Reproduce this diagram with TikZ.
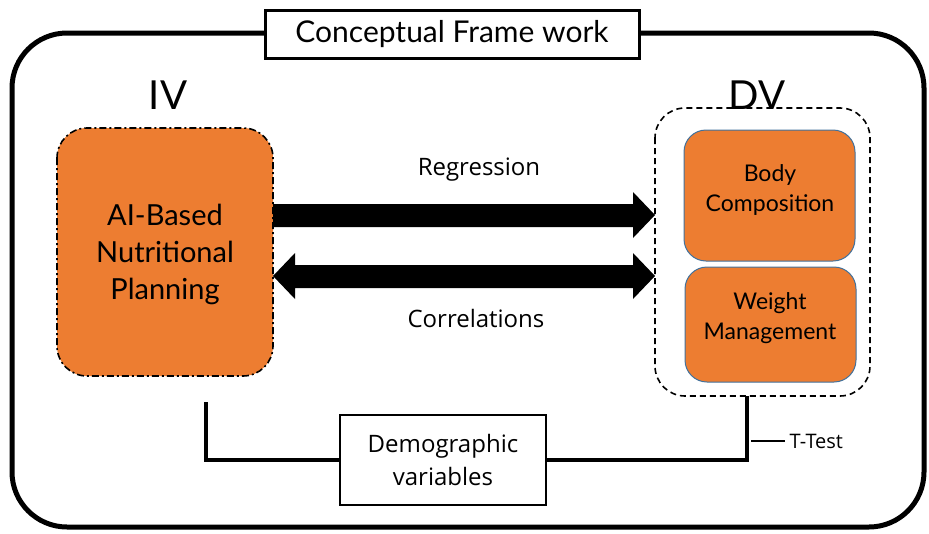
\documentclass[tikz,border=0pt]{standalone}
\usepackage{fontspec}
\setmainfont{Lato}
\newfontfamily\segoe{Open Sans}
\usetikzlibrary{arrows.meta,shapes.arrows}
\definecolor{orng}{HTML}{ED7D31}
\definecolor{bord}{HTML}{41719C}
\begin{document}
\begin{tikzpicture}[x=1pt,y=-1pt,
  frame/.style={draw=black,line width=5pt,rounded corners=55pt},
  ivbox/.style={draw=black,fill=orng,line width=1.6pt,dash pattern=on 7pt off 3pt on 2pt off 3pt,rounded corners=30pt},
  dvgroup/.style={draw=black,line width=1.6pt,dash pattern=on 6pt off 4pt,rounded corners=30pt},
  dvbox/.style={draw=bord,fill=orng,line width=1pt,rounded corners=22pt},
  fatarrow/.style={fill=black,draw=none},
  conn/.style={draw=black,line width=4pt},
  lbl/.style={font=\segoe\fontsize{24}{28}\selectfont}
]
\useasboundingbox (0,0) rectangle (929,533);
% outer frame
\draw[frame] (12,33) rectangle (924,527);
% title
\node[draw=black,line width=3pt,fill=white,minimum width=374pt,minimum height=48pt,inner sep=0pt,font=\fontsize{30}{33}\selectfont] (title) at (452,34) {Conceptual Frame work};
% IV / DV
\node[font=\fontsize{40}{44}\selectfont] (iv) at (168,95) {IV};
\node[font=\fontsize{40}{44}\selectfont] (dv) at (757,95) {DV};
% IV box
\path[ivbox] (57,128) rectangle (273,376);
\node[align=center,font=\fontsize{29}{37}\selectfont] (ai) at (165,254) {AI-Based\\Nutritional\\Planning};
% DV group
\path[dvgroup] (655,108) rectangle (870,396);
\coordinate (dvB) at (747,396);
\path[dvbox] (684,130) rectangle (855,261);
\node[align=center,font=\fontsize{23}{30}\selectfont] (body) at (770,190) {Body\\Composition};
\path[dvbox] (685,267) rectangle (856,382);
\node[align=center,font=\fontsize{23}{30}\selectfont] (weight) at (770,318) {Weight\\Management};
% arrows
\fill[fatarrow] (273,204) -- (633,204) -- (633,192) -- (655,215) -- (633,238) -- (633,227) -- (273,227) -- cycle;
\fill[fatarrow] (295,265) -- (633,265) -- (633,253) -- (655,276) -- (633,299) -- (633,288) -- (295,288) -- (295,299) -- (273,276) -- (295,253) -- cycle;
\node[lbl] (reg) at (479,170) {Regression};
\node[lbl] (cor) at (476,318) {Correlations};
% demographic
\node[draw=black,line width=1.3pt,fill=white,minimum width=206pt,minimum height=90pt,inner sep=0pt,align=center,font=\segoe\fontsize{24}{33}\selectfont] (demo) at (443,460) {Demographic\\variables};
\coordinate (ivB) at (206,402);
\draw[conn] (ivB) |- (demo.west);
\draw[conn] (demo.east) -| (dvB);
\coordinate (tt) at (751,441);
\draw[line width=1.3pt] (tt) -- ++(34,0) node[right,inner sep=4pt,font=\segoe\fontsize{20}{22}\selectfont] (ttest) {T-Test};
\end{tikzpicture}
\end{document}
